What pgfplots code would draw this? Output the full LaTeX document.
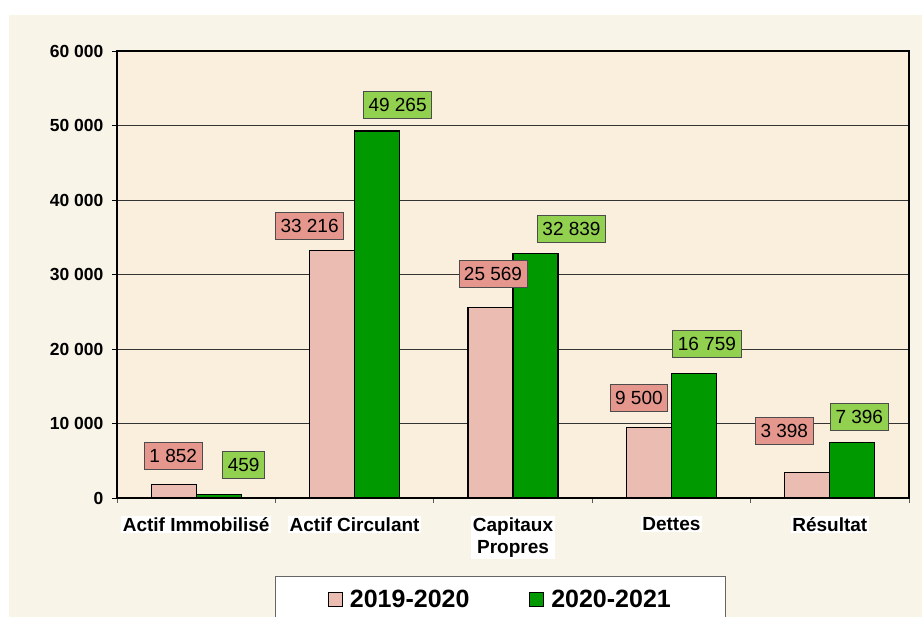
\documentclass[border=0pt]{standalone}
\usepackage{pgfplots}
\pgfplotsset{compat=1.18}
\usepackage{pgfplotstable}
\usepackage{fontspec}
\setmainfont{Liberation Sans}
\definecolor{chartbg}{HTML}{F8F4E8}
\definecolor{plotbg}{HTML}{FAEFDC}
\definecolor{barpink}{HTML}{EBBDB2}
\definecolor{bargreen}{HTML}{009900}
\definecolor{labpink}{HTML}{E6978D}
\definecolor{labgreen}{HTML}{92D050}
\definecolor{gridc}{HTML}{333333}

\pgfplotstableread{
x y dx dy
0 1852 -0.5 28.5
1 33216 -22.5 24.5
2 25569 2.5 34
3 9500 -10 29.5
4 3398 -23 41.5
}\tA
\pgfplotstableread{
x y dx dy
0 459 25 29.5
1 49265 20.5 26.5
2 32839 36 24.5
3 16759 13 29
4 7396 7 25.5
}\tB

\begin{document}
\begin{tikzpicture}
\path[use as bounding box] (0,0) rectangle (922pt,617pt);
\clip (0,0) rectangle (922pt,617pt);
\fill[white] (0,0) rectangle (922pt,617pt);
\fill[chartbg] (9pt,0) rectangle (922pt,602pt);
\begin{axis}[
  at={(117pt,119pt)}, anchor=south west,
  scale only axis, width=792pt, height=447pt,
  ybar=0pt, bar width=45pt,
  xmin=-0.5, xmax=4.5, ymin=0, ymax=60000,
  ytick={0,10000,...,60000},
  xtick={0,...,4},
  xticklabels={Actif Immobilisé, Actif Circulant, {Capitaux\\Propres}, Dettes, Résultat},
  minor xtick={-0.5,0.5,...,4.5},
  scaled y ticks=false,
  /pgf/number format/.cd, 1000 sep={\ }, assume math mode=true, /pgfplots/.cd,
  axis background/.style={fill=plotbg},
  axis line style={line width=1.6pt, black},
  ymajorgrids, grid style={gridc, line width=0.8pt},
  tick pos=left,
  tick align=outside,
  major tick length=5pt, minor tick length=5pt,
  xtick style={draw=none},
  ytick style={black, line width=0.8pt},
  minor x tick style={draw=gray!70!black, line width=0.8pt},
  yticklabel style={font=\bfseries\fontsize{17.5}{20}\selectfont, xshift=-5pt},
  xticklabel style={font=\bfseries\fontsize{19}{22}\selectfont, align=center, fill=white, inner sep=1.5pt, anchor=north, yshift=-13pt},
  legend style={at={(axis description cs:0.4842,-0.1745)}, anchor=north,
    draw=gray!80!black, fill=white, line width=0.8pt,
    font=\bfseries\fontsize{25}{29}\selectfont,
    inner xsep=53pt, inner ysep=12pt,
    /tikz/every odd column/.append style={column sep=5pt},
    /tikz/every even column/.append style={column sep=58pt}},
  legend columns=2,
  reverse legend,
  legend image code/.code={\draw[#1, draw=black, line width=0.8pt] (0pt,-7pt) rectangle (14pt,7pt);},
  nodes near coords style={anchor=center, font=\fontsize{19}{22}\selectfont, text=black,
    draw=gray!60!black, line width=0.8pt, minimum height=27pt, inner xsep=5pt, inner ysep=0pt},
]
\addplot[fill=bargreen, draw=black, line width=1.2pt, bar shift=22.5pt,
  visualization depends on={\thisrow{dx}\as\dx},
  visualization depends on={\thisrow{dy}\as\dy},
  nodes near coords,
  nodes near coords style={fill=labgreen, xshift=\dx pt, yshift=\dy pt}]
  table[x=x,y=y] {\tB};
\addlegendentry{2020-2021}
\addplot[fill=barpink, draw=black, line width=1.2pt, bar shift=-22.5pt,
  visualization depends on={\thisrow{dx}\as\dx},
  visualization depends on={\thisrow{dy}\as\dy},
  nodes near coords,
  nodes near coords style={fill=labpink, xshift=\dx pt, yshift=\dy pt}]
  table[x=x,y=y] {\tA};
\addlegendentry{2019-2020}
\end{axis}
\end{tikzpicture}
\end{document}
